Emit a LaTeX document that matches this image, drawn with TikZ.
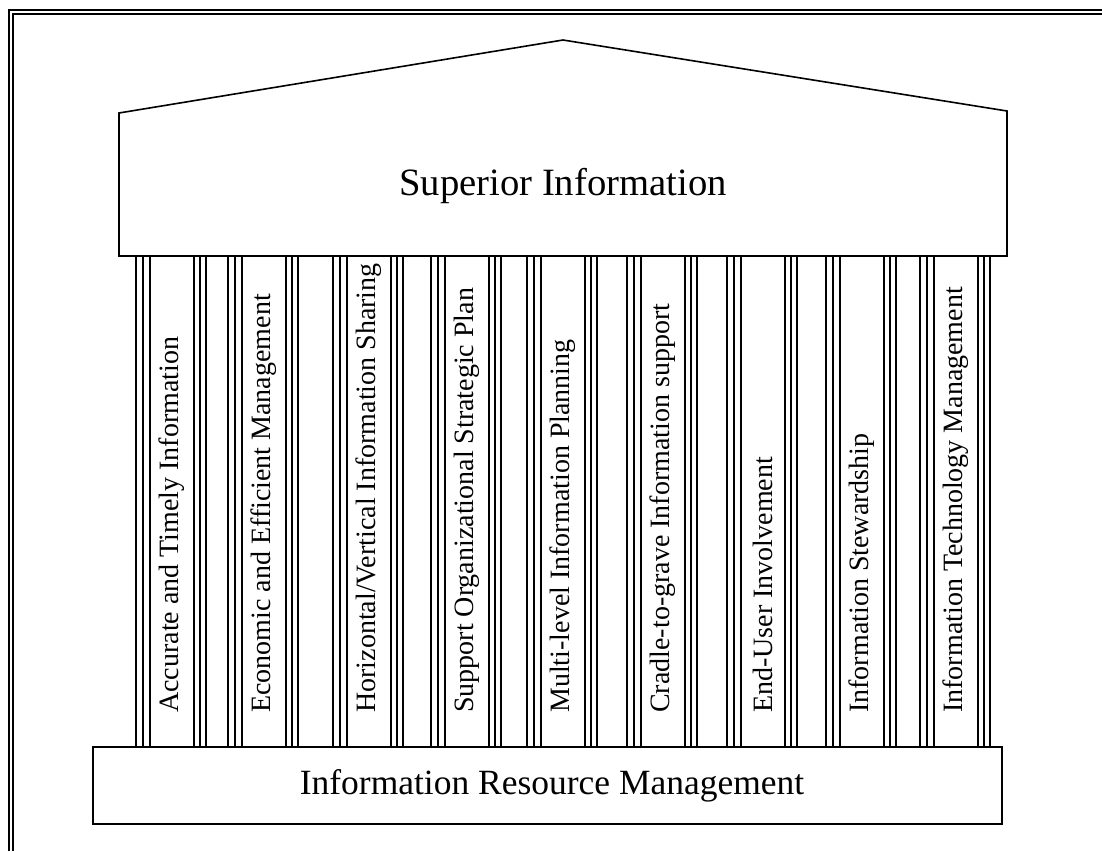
\documentclass[tikz,border=0pt]{standalone}
\usepackage{fontspec}
\setmainfont{Liberation Serif}
\tikzset{
  outline/.style={draw=black, line width=1.2pt},
  pline/.style={draw=black, line width=0.9pt},
  frameline/.style={draw=black, line width=1.2pt},
  pillartext/.style={rotate=90, anchor=west, inner sep=0pt, font=\fontsize{21}{24}\selectfont},
  titletext/.style={font=\fontsize{29}{33}\selectfont, inner sep=0pt},
  basetext/.style={font=\fontsize{26.6}{30}\selectfont, inner sep=0pt}
}
\begin{document}
\begin{tikzpicture}[x=0.75pt, y=-0.75pt]
\useasboundingbox (0,0) rectangle (1102,851);
% frame (double line)
\draw[frameline] (9,851) -- (9,10) -- (1102,10);
\draw[pline] (13,851) -- (13,14) -- (1102,14);
% roof / pediment
\coordinate (rl) at (119,113);
\coordinate (apex) at (563,40);
\coordinate (rr) at (1007,111);
\coordinate (rbr) at (1007,256);
\coordinate (rbl) at (119,256);
\draw[outline, fill=white] (rl) -- (apex) -- (rr) -- (rbr) -- (rbl) -- cycle;
\node[titletext] (title) at (563,186) {Superior Information};
% pillars
\foreach \s/\name/\txt in {
  136/p1/{Accurate and Timely Information},
  228/p2/{Economic and Efficient Management},
  333/p3/{Horizontal/Vertical Information Sharing},
  431/p4/{Support Organizational Strategic Plan},
  527/p5/{Multi-level Information Planning},
  627/p6/{Cradle-to-grave Information support},
  727/p7/{End-User Involvement},
  826/p8/{Information Stewardship},
  920/p9/{Information Technology Management}} {
  \foreach \o in {0,7,14,58,64,70} {
    \draw[pline] (\s+\o,256) -- (\s+\o,747);
  }
  \node[pillartext] (\name) at (\s+36,713) {\txt};
}
% base
\draw[outline, fill=white] (93,747) rectangle (1002,824);
\node[basetext] (base) at (552,786) {Information Resource Management};
\end{tikzpicture}
\end{document}
